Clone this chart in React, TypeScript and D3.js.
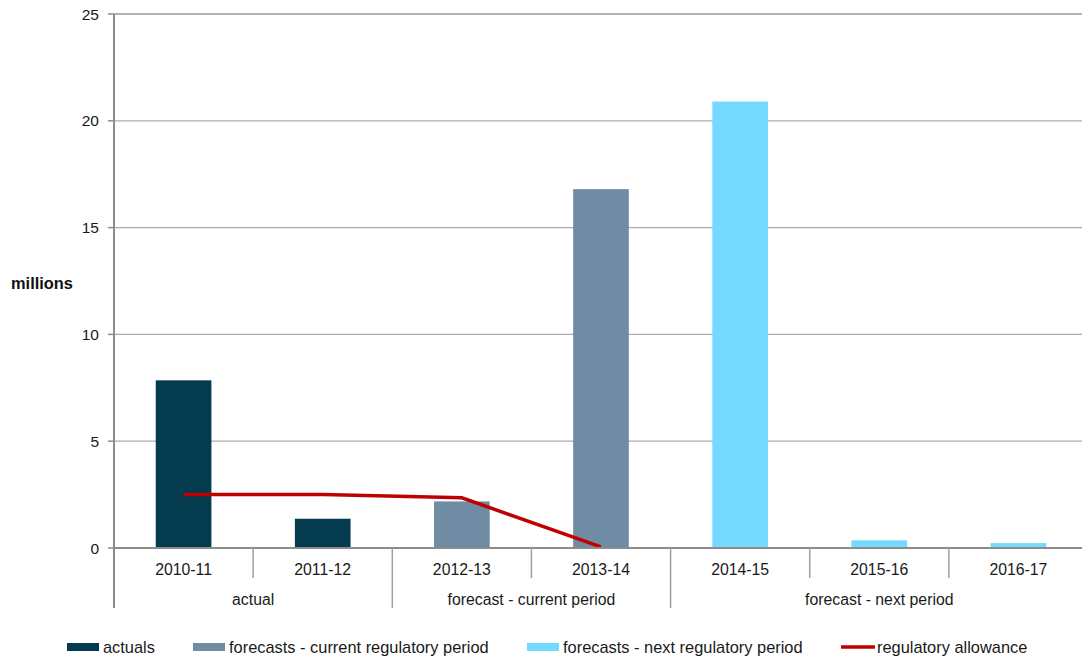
import React from "react";
import * as d3 from "d3";

// Financial years, grouped into reporting periods
const years = ["2010-11", "2011-12", "2012-13", "2013-14", "2014-15", "2015-16", "2016-17"];
const periods = [
  { label: "actual", from: 0, to: 1 },
  { label: "forecast - current period", from: 2, to: 3 },
  { label: "forecast - next period", from: 4, to: 6 },
];

// Expenditure by series, in millions (null where the series has no value)
const actuals = [7.85, 1.37, null, null, null, null, null];
const forecastsCurrent = [null, null, 2.18, 16.8, null, null, null];
const forecastsNext = [null, null, null, null, 20.9, 0.36, 0.23];
const allowance = [2.5, 2.5, 2.35, 0.05];

const yTicks = [0, 5, 10, 15, 20, 25];

const seriesNames = [
  "actuals",
  "forecasts - current regulatory period",
  "forecasts - next regulatory period",
  "regulatory allowance",
];

const COLORS = {
  actuals: "#053b4f",
  current: "#708ca4",
  next: "#73d9ff",
  line: "#c00000",
};

const W = 1082;
const H = 661;
const FONT = "'Liberation Sans', Arial, sans-serif";

export default function App() {
  const left = 114;
  const right = 1088;
  const top = 14;
  const bottom = 548;

  const x = d3
    .scaleBand<string>()
    .domain(years)
    .range([left, right])
    .paddingInner(0.6)
    .paddingOuter(0.3);
  const step = x.step();
  const bw = x.bandwidth();
  const colStart = (i: number) => (x(years[i]) as number) - step * 0.3;
  const center = (i: number) => (x(years[i]) as number) + bw / 2;

  const y = d3.scaleLinear().domain([0, 25]).range([bottom, top]);

  const bars: { i: number; v: number; c: string }[] = [];
  const addSeries = (vals: (number | null)[], c: string) =>
    vals.forEach((v, i) => {
      if (v != null) bars.push({ i, v, c });
    });
  addSeries(actuals, COLORS.actuals);
  addSeries(forecastsCurrent, COLORS.current);
  addSeries(forecastsNext, COLORS.next);

  const linePath = d3
    .line<number>()
    .x((_, i) => center(i))
    .y((d) => y(d))(allowance);

  const legendX = [67, 193, 527, 841];
  const legendColors = [COLORS.actuals, COLORS.current, COLORS.next, COLORS.line];
  const legendY = 647;

  return (
    <svg
      width={W}
      height={H}
      style={{ position: "absolute", left: 0, top: 0, background: "#fff" }}
      fontFamily={FONT}
    >
      {/* horizontal gridlines */}
      {yTicks.map((t) => (
        <line
          key={"g" + t}
          x1={left}
          x2={W}
          y1={y(t)}
          y2={y(t)}
          stroke={t === 25 ? "#9a9a9a" : "#ababab"}
          strokeWidth={1.3}
        />
      ))}

      {/* y-axis ticks and labels */}
      {yTicks.map((t) => (
        <g key={"t" + t}>
          <line x1={108} x2={left} y1={y(t)} y2={y(t)} stroke="#8c8c8c" strokeWidth={1.5} />
          <text
            x={99}
            y={y(t)}
            textAnchor="end"
            dominantBaseline="central"
            fontSize={15.5}
            fill="#1a1a1a"
          >
            {t}
          </text>
        </g>
      ))}
      <text x={11} y={283} dominantBaseline="central" fontSize={16.4} fontWeight="bold" fill="#111">
        millions
      </text>

      {/* bars */}
      {bars.map((b, k) => (
        <rect
          key={"b" + k}
          x={x(years[b.i])}
          y={y(b.v)}
          width={bw}
          height={y(0) - y(b.v)}
          fill={b.c}
        />
      ))}

      {/* regulatory allowance line */}
      <path d={linePath || ""} fill="none" stroke={COLORS.line} strokeWidth={3.5} />

      {/* category axis */}
      <line x1={left} x2={W} y1={bottom} y2={bottom} stroke="#8c8c8c" strokeWidth={2} />
      <line x1={left} x2={left} y1={top} y2={608} stroke="#8c8c8c" strokeWidth={2} />
      {years.map((yr, i) => {
        const isGroupEdge = periods.some((p) => p.from === i);
        return (
          <g key={"c" + yr}>
            {i > 0 && (
              <line
                x1={colStart(i)}
                x2={colStart(i)}
                y1={bottom}
                y2={isGroupEdge ? 608 : 578}
                stroke="#a0a0a0"
                strokeWidth={1.5}
              />
            )}
            <text
              x={center(i)}
              y={569}
              textAnchor="middle"
              dominantBaseline="central"
              fontSize={15.8}
              fill="#1a1a1a"
            >
              {yr}
            </text>
          </g>
        );
      })}
      <line x1={right} x2={right} y1={bottom} y2={608} stroke="#a0a0a0" strokeWidth={1.5} />
      {periods.map((p) => (
        <text
          key={p.label}
          x={(colStart(p.from) + colStart(p.to) + step) / 2}
          y={599}
          textAnchor="middle"
          dominantBaseline="central"
          fontSize={15.8}
          fill="#1a1a1a"
        >
          {p.label}
        </text>
      ))}

      {/* legend */}
      {seriesNames.map((name, i) => (
        <g key={name}>
          {i < 3 ? (
            <rect x={legendX[i]} y={legendY - 4} width={32} height={8} fill={legendColors[i]} />
          ) : (
            <line
              x1={legendX[i]}
              x2={legendX[i] + 34}
              y1={legendY}
              y2={legendY}
              stroke={legendColors[i]}
              strokeWidth={3.5}
            />
          )}
          <text
            x={legendX[i] + 36}
            y={legendY}
            dominantBaseline="central"
            fontSize={16.4}
            fill="#1a1a1a"
          >
            {name}
          </text>
        </g>
      ))}
    </svg>
  );
}
